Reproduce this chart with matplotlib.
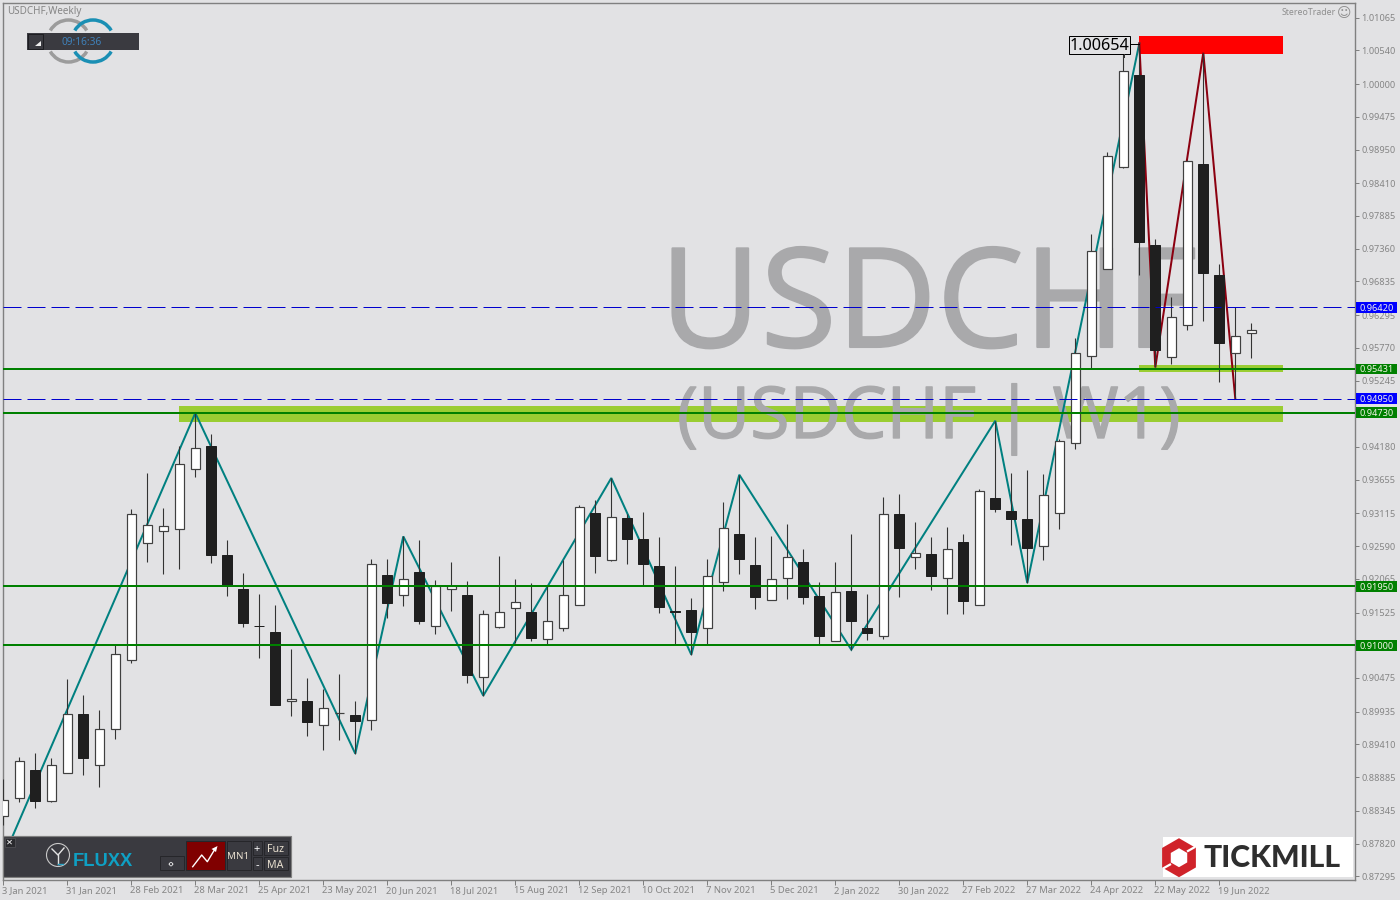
import numpy as np
import matplotlib
matplotlib.use("Agg")
import matplotlib.pyplot as plt
import matplotlib.patheffects as pe
from matplotlib.patches import Rectangle, Arc, Polygon, Circle, RegularPolygon
from matplotlib.transforms import Affine2D

opens = [0.88262,0.88550,0.89004,0.88502,0.88951,0.89902,0.89080,0.89657,0.90764,0.92641,0.92833,0.92865,0.93826,
         0.94200,0.92453,0.91908,0.91309,0.91218,0.90106,0.90111,0.89721,0.89914,0.89886,0.89801,0.92132,0.91807,
         0.92180,0.91309,0.91903,0.91811,0.90490,0.91293,0.91598,0.91538,0.91101,0.91277,0.91646,0.93126,0.92368,
         0.93046,0.92710,0.92276,0.91551,0.91571,0.91277,0.92014,0.92790,0.92293,0.91726,0.92079,0.92341,0.91795,
         0.91068,0.91876,0.91282,0.91150,0.93110,0.92416,0.92469,0.92079,0.92661,0.91646,0.93367,0.93159,0.93030,
         0.92592,0.93122,0.94244,0.95633,0.97035,0.98671,1.00146,0.97424,0.95623,0.96136,0.98724,0.96943,0.95687,
         0.96008]
highs = [0.88860,0.89208,0.89272,0.89197,0.90459,0.90207,0.89967,0.91009,0.93191,0.93763,0.93207,0.94189,0.94725,
         0.94393,0.92693,0.92164,0.91827,0.91651,0.90945,0.90480,0.90298,0.90544,0.90111,0.92389,0.92389,0.92746,
         0.92693,0.92047,0.92341,0.92036,0.91571,0.92437,0.92068,0.92004,0.91956,0.92373,0.93255,0.93335,0.93682,
         0.93110,0.93143,0.92742,0.92276,0.91763,0.92389,0.93303,0.93735,0.92742,0.92758,0.92950,0.92549,0.92020,
         0.92341,0.92790,0.91827,0.93383,0.93431,0.92982,0.92742,0.92902,0.92790,0.93511,0.94601,0.93767,0.93816,
         0.93751,0.94313,0.95933,0.97601,0.98916,1.00504,1.00654,0.97520,0.96590,0.98788,1.00504,0.97119,0.96425,
         0.96173]
lows = [0.88122,0.88480,0.88383,0.88480,0.88951,0.88913,0.88720,0.89490,0.90709,0.92329,0.92137,0.92217,0.93691,
        0.92313,0.91784,0.91287,0.90789,0.90036,0.89859,0.89538,0.89314,0.89474,0.89261,0.89646,0.91431,0.91624,
        0.91335,0.91174,0.91543,0.90388,0.90191,0.91271,0.91037,0.91062,0.91025,0.91223,0.91646,0.92153,0.92345,
        0.92297,0.91967,0.91512,0.91025,0.90849,0.91025,0.91864,0.92148,0.91575,0.91726,0.91736,0.91656,0.91025,
        0.91068,0.90929,0.91078,0.91095,0.91768,0.92217,0.91880,0.91495,0.91495,0.91646,0.93131,0.92602,0.91999,
        0.92373,0.92859,0.94141,0.95447,0.97035,0.98655,0.96931,0.95456,0.95504,0.96050,0.96194,0.95215,0.94950,
        0.95601]
closes = [0.88518,0.89144,0.88496,0.89080,0.89898,0.89186,0.89657,0.90860,0.93106,0.92929,0.92913,0.93908,0.94163,
          0.92442,0.91964,0.91351,0.91302,0.90036,0.90138,0.89763,0.89994,0.89919,0.89790,0.92304,0.91672,0.92063,
          0.91383,0.91956,0.91956,0.90516,0.91502,0.91534,0.91694,0.91110,0.91389,0.91807,0.93218,0.92426,0.93058,
          0.92698,0.92297,0.91608,0.91535,0.91206,0.92111,0.92881,0.92377,0.91768,0.92063,0.92416,0.91768,0.91143,
          0.91855,0.91383,0.91191,0.93106,0.92554,0.92480,0.92105,0.92544,0.91704,0.93473,0.93179,0.93019,0.92554,
          0.93410,0.94276,0.95687,0.97323,0.98852,1.00210,0.97461,0.95729,0.96265,0.98767,0.96964,0.95841,0.95960,
          0.96056]

zigzag_bars = [0, 12, 22, 25, 30, 38, 43, 46, 53, 62, 64, 71]
zigzag_vals = [0.87593, 0.94725, 0.89261, 0.92746, 0.90191, 0.93682, 0.90849, 0.93735, 0.90929, 0.94601, 0.91999, 1.00654]
red_bars = [71, 72, 75, 77]
red_vals = [1.00654, 0.95456, 1.00504, 0.94950]

green_levels = [0.95431, 0.94730, 0.91950, 0.91000]
blue_levels = [0.96420, 0.94950]
green_level_text = ["0.95431", "0.94730", "0.91950", "0.91000"]
blue_level_text = ["0.96420", "0.94950"]

zone_bars = [(11, 80), (71, 80), (71, 80)]
zone_vals = [(0.94585, 0.94842), (0.95385, 0.95489), (1.00477, 1.00777)]
zone_cols = ["#9ACD32", "#9ACD32", "#FF0000"]

y_ticks = [1.01065,1.00540,1.00000,0.99475,0.98950,0.98410,0.97885,0.97360,0.96835,0.96295,0.95770,0.95245,0.94705,
           0.94180,0.93655,0.93115,0.92590,0.92065,0.91525,0.91000,0.90475,0.89935,0.89410,0.88885,0.88345,0.87820,0.87295]
y_tick_text = ["1.01065","1.00540","1.00000","0.99475","0.98950","0.98410","0.97885","0.97360","0.96835","0.96295",
               "0.95770","0.95245","","0.94180","0.93655","0.93115","0.92590","0.92065","0.91525","","0.90475",
               "0.89935","0.89410","0.88885","0.88345","0.87820","0.87295"]
x_tick_bars = list(range(0, 77, 4))
x_tick_text = ["3 Jan 2021","31 Jan 2021","28 Feb 2021","28 Mar 2021","25 Apr 2021","23 May 2021","20 Jun 2021",
               "18 Jul 2021","15 Aug 2021","12 Sep 2021","10 Oct 2021","7 Nov 2021","5 Dec 2021","2 Jan 2022",
               "30 Jan 2022","27 Feb 2022","27 Mar 2022","24 Apr 2022","22 May 2022","19 Jun 2022"]

BG = "#E2E2E4"
GRAY = "#808080"
plt.rcParams["font.family"] = ["Noto Sans", "DejaVu Sans"]

W, H = 1400, 900
fig = plt.figure(figsize=(W/100, H/100), dpi=100, facecolor=BG)
L, R, T, B = 2.5, 1354.5, 2.5, 879.5
ax = fig.add_axes([L/W, 1-B/H, (R-L)/W, (B-T)/H], facecolor=BG)
ax.set_xlim(-0.05, 84.45)
ax.set_ylim(0.87243, 1.01309)
for s in ax.spines.values():
    s.set_color(GRAY)
    s.set_linewidth(1.0)

px = Affine2D().scale(1, -1).translate(0, H)
PX = 0.72

for (b0, b1), (v0, v1), c in zip(zone_bars, zone_vals, zone_cols):
    ax.add_patch(Rectangle((b0, v0), b1-b0, v1-v0, fc=c, ec="none", zorder=1))

WM = "#A9A9AB"
halo = [pe.withStroke(linewidth=1.5, foreground=WM)]
ax.text(660, 347, "USDCHF", transform=px, fontsize=99.5, color=WM, family="Open Sans", va="baseline", ha="left",
        zorder=1.5, path_effects=halo)
ax.text(677, 438, "(USDCHF | W1)", transform=px, fontsize=51.5, color=WM, family="Open Sans", va="baseline", ha="left",
        zorder=1.5, path_effects=[pe.withStroke(linewidth=1.0, foreground=WM)])

ax.plot(zigzag_bars, zigzag_vals, color="#008080", lw=2*PX, zorder=3, solid_joinstyle="miter")
ax.plot(red_bars, red_vals, color="#8B0010", lw=2*PX, zorder=3, solid_joinstyle="miter")

bars = np.arange(len(opens))
o, h, l, c = map(np.array, (opens, highs, lows, closes))
up = c >= o
ax.vlines(bars, l, h, color="#333333", lw=1.1*PX, zorder=4)
ax.bar(bars[up], (c-o)[up], bottom=o[up], width=9.6/16, color="white", edgecolor="#404040", linewidth=1.2*PX, zorder=5)
ax.bar(bars[~up], (c-o)[~up], bottom=o[~up], width=10/16, color="#1F1F1F", edgecolor="#1F1F1F", linewidth=1.0*PX, zorder=5)

for v in green_levels:
    ax.axhline(v, color="#008000", lw=2*PX, zorder=6)
for v in blue_levels:
    ax.axhline(v, color="#0000CD", lw=1*PX, zorder=6, dashes=(18, 6))

ax.yaxis.tick_right()
ax.set_yticks(y_ticks, y_tick_text)
ax.set_xticks(x_tick_bars, x_tick_text, ha="left")
ax.tick_params(axis="y", direction="out", length=3, width=PX, color=GRAY, labelcolor="#858585", labelsize=6.6, pad=1.8)
ax.tick_params(axis="x", direction="out", length=3.5, width=PX, color=GRAY, labelcolor="#858585", labelsize=6.8, pad=1.5)
for t in ax.get_xticklabels():
    t.set_transform(t.get_transform() + Affine2D().translate(-1, 0))

ytr = ax.get_yaxis_transform()
def tag(v, txt, col):
    ax.add_patch(Rectangle(((1356-L)/1352, v-0.00088), 41/1352, 0.00176, transform=ytr, fc=col, ec="none", clip_on=False, zorder=20))
    ax.text((1359.5-L)/1352, v, txt, transform=ytr, color="#F4F4E8", fontsize=6.6, va="center_baseline", ha="left", clip_on=False, zorder=21)
for v, t in zip(green_levels, green_level_text):
    tag(v, t, "#008000")
for v, t in zip(blue_levels, blue_level_text):
    tag(v, t, "#0000FF")

ui = fig.add_axes([0, 0, 1, 1], facecolor="none", zorder=10)
ui.set_xlim(0, W)
ui.set_ylim(H, 0)
ui.axis("off")
DARK = "#3A3A40"

ui.text(7, 14, "USDCHF,Weekly", fontsize=7.1, color="#858585", va="baseline")
ui.text(1282, 15, "StereoTrader", fontsize=6.3, color="#8E8E8E", va="baseline")
ui.text(1344, 12.5, "\u263A", fontsize=10, color="#8E8E8E", family="DejaVu Sans", ha="center", va="center")

for cx, col in ((68.5, "#9C9C9C"), (93, "#1A8FB4")):
    ui.add_patch(Arc((cx, 41), 42, 42, theta1=30, theta2=150, color=col, lw=3.5*PX))
    ui.add_patch(Arc((cx, 41), 42, 42, theta1=210, theta2=330, color=col, lw=3.5*PX))
ui.add_patch(Rectangle((27, 33), 112, 16.5, fc=DARK, ec="none"))
ui.add_patch(Rectangle((27.5, 33.5), 15, 15.5, fc=DARK, ec="#1E1E22", lw=PX))
ui.add_patch(Polygon([(35, 46), (41, 46), (41, 40.5)], fc="#EDEDED", ec="none"))
ui.text(82, 41.2, "09:16:36", fontsize=7.3, color="#3F80B8", fontweight="bold", ha="center", va="center_baseline")

ui.add_patch(Rectangle((1068.5, 35.5), 61.5, 18, fc=BG, ec="black", lw=PX))
ui.text(1099.5, 50.3, "1.00654", fontsize=11.7, color="black", ha="center", va="baseline")
ui.plot([1130, 1139], [44, 44], color="black", lw=PX)
ui.plot([1123.5, 1123.5], [53.5, 57], color="#333333", lw=PX)

ui.add_patch(Rectangle((3.2, 835.5), 287.3, 41, fc=DARK, ec=GRAY, lw=1.2*PX))
ui.add_patch(Rectangle((4.5, 838), 10, 9, fc="#2A2A2E", ec="#55555A", lw=0.5))
ui.text(9.5, 842.5, "\u2715", fontsize=6, color="white", family="DejaVu Sans", fontweight="bold", ha="center", va="center")
ui.add_patch(Circle((58, 855), 11.5, fc="none", ec="#C9C9C9", lw=0.8))
ui.plot([52, 58, 64], [849, 855, 848], color="#E4E4E4", lw=1.0)
ui.plot([58, 58], [855, 863.5], color="#E4E4E4", lw=1.0)
ui.plot([58, 63], [863.5, 863.5], color="#27A3C6", lw=1.0)
ui.text(72.3, 865.5, "FLUXX", fontsize=13.2, color="#0FA0C4", fontweight="bold", va="baseline", family="Liberation Sans")

def btn(x0, y0, x1, y1, text=None, fc=DARK, size=6.5, col="#E8DFCF"):
    ui.add_patch(Rectangle((x0, y0), x1-x0, y1-y0, fc=fc, ec="#26262A", lw=PX))
    if text:
        ui.text((x0+x1)/2, (y0+y1)/2+0.2, text, fontsize=size, color=col, ha="center", va="center_baseline")

btn(159.5, 855.5, 183.5, 870, "\u2039\u203A", size=8, col="white")
btn(185.5, 841, 224.5, 870, fc="#800000")
ui.plot([192.7, 201.7, 207.3, 215], [866.7, 855, 861.7, 849], color="white", lw=1.0)
ui.add_patch(Polygon([(217.5, 846), (211.5, 849), (216, 852)], fc="white", ec="none"))
btn(226.5, 841, 250.5, 870, "MN1", size=7)
btn(252.5, 841, 261.5, 855, "+", size=8, col="white")
btn(252.5, 857, 261.5, 870, "-", size=8, col="white")
btn(263.5, 841, 287.5, 855, "Fuz", size=7.6)
btn(263.5, 857, 287.5, 870, "MA", size=7.6)

ui.add_patch(Rectangle((1163, 837), 190, 40, fc="white", ec="none"))
ui.add_patch(RegularPolygon((1179, 857.7), 6, radius=19.5, fc="#D0232A", ec="none"))
ui.add_patch(RegularPolygon((1179, 857.7), 6, radius=9.5, fc="white", ec="none"))
ui.plot([1195, 1187], [847, 851.5], color="white", lw=1.6, solid_capstyle="butt")
ui.plot([1163, 1171], [868.5, 864], color="white", lw=1.6, solid_capstyle="butt")
ui.text(1204, 867, "TICKMILL", fontsize=21.7, color="#2E2E2E", family="Lato", fontweight="black", va="baseline")

fig.savefig("out.png", dpi=100, facecolor=BG)
